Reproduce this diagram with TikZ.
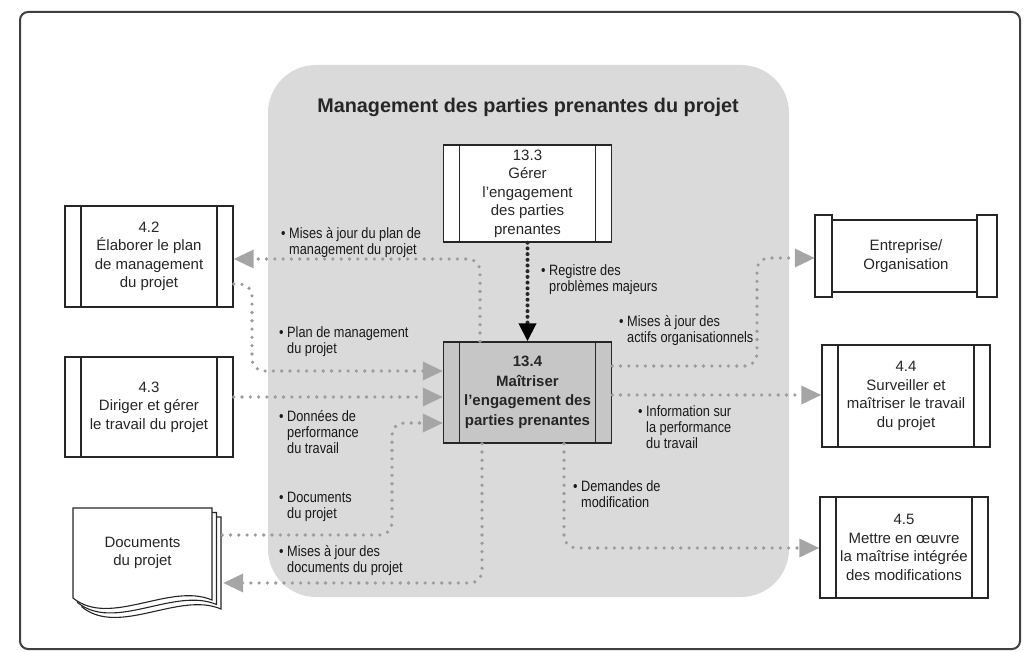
\documentclass[tikz,border=0pt]{standalone}
\usepackage{fontspec}
\setmainfont{Liberation Sans}
\newfontfamily\boxfont{Liberation Sans}
\newfontfamily\notefont{Liberation Sans}[FakeStretch=0.85]
\usepackage{tikz}
\usetikzlibrary{arrows.meta,calc}
\definecolor{zonegray}{RGB}{218,218,218}
\definecolor{keygray}{RGB}{198,198,198}
\definecolor{dotgray}{RGB}{155,155,155}
\definecolor{tipgray}{RGB}{165,165,165}
\definecolor{inkgray}{RGB}{38,38,38}
\newcommand{\ind}{\hphantom{\textbullet\ }}

\tikzset{
  proc/.style={draw=inkgray, line width=1.4pt, fill=white, minimum width=168pt, minimum height=101pt,
    inner sep=0pt, align=center, text=inkgray, font=\boxfont\fontsize{15}{18.5}\selectfont,
    path picture={\draw[inkgray, line width=1.4pt]
      ([xshift=16pt]path picture bounding box.north west) -- ([xshift=16pt]path picture bounding box.south west)
      ([xshift=-16pt]path picture bounding box.north east) -- ([xshift=-16pt]path picture bounding box.south east);}},
  note/.style={anchor=north west, inner sep=0pt, align=left, text=black!90,
    font=\notefont\fontsize{15}{16}\selectfont},
  flow/.style={dotgray, line width=3.6pt, line cap=round, dash pattern=on 0pt off 8.3pt,
    rounded corners=12pt, -{Triangle[length=20pt 0 0,width=18pt 0 0,color=tipgray]}},
  keyflow/.style={inkgray, line width=4pt, line cap=round, dash pattern=on 0pt off 5.7pt,
    -{Triangle[length=18pt 0 0,width=17pt 0 0,color=black]}},
}

\begin{document}
\begin{tikzpicture}[x=1pt,y=1pt,yscale=-1]
\useasboundingbox (0,0) rectangle (1025,652);

% outer frame
\draw [line width=2pt, draw=black!75, rounded corners=8pt] (20,12) rectangle (1020,649);

% grey zone
\fill [zonegray, rounded corners=48pt] (268,65) rectangle (789,597);
\node (title) at (528,107) [font=\boxfont\bfseries\fontsize{19.8}{22}\selectfont, text=inkgray] {Management des parties prenantes du projet};

% processes
\node (b133) at (527.5,193.5) [proc, minimum height=97pt] {13.3\\Gérer\\l’engagement\\des parties\\prenantes};
\node (b134) at (527.5,392.5) [proc, fill=keygray, font=\boxfont\bfseries\fontsize{15}{19.5}\selectfont] {13.4\\Maîtriser\\l’engagement des\\parties prenantes};
\node (b42) at (149,256.5) [proc] {4.2\\Élaborer le plan\\de management\\du projet};
\node (b43) at (149,407) [proc, minimum height=100pt] {4.3\\Diriger et gérer\\le travail du projet};
\node (b44) at (906,396) [proc, minimum height=102pt] {4.4\\Surveiller et\\maîtriser le travail\\du projet};
\node (b45) at (904,547.5) [proc] {4.5\\Mettre en œuvre\\la maîtrise intégrée\\des modifications};

% enterprise (scroll shape)
\draw [inkgray, line width=1.4pt, fill=white] (832,220) rectangle (977,292);
\draw [inkgray, line width=1.4pt, fill=white] (815,215) rectangle (832,297);
\draw [inkgray, line width=1.4pt, fill=white] (977,215) rectangle (997,297);
\node (ent) at (906,256) [minimum width=182pt, minimum height=82pt, inner sep=0pt, align=center, text=inkgray, font=\boxfont\fontsize{15}{18.5}\selectfont] {Entreprise/\\Organisation};

% documents (stacked pages)
\foreach \d in {9,4.5,0}{
  \draw [inkgray, line width=1.1pt, fill=white, shift={(\d,\d)}]
    (73,508) -- (212,508) -- (212,600) .. controls (170,582) and (110,628) .. (73,598) -- cycle;
}
\node (docs) at (142.5,553) [minimum width=139pt, minimum height=90pt, inner sep=0pt, align=center, text=inkgray, font=\boxfont\fontsize{15}{18.5}\selectfont] {Documents\\du projet};

% connectors
\draw [keyflow] (b133.south) -- (b134.north);
\draw [flow] ([xshift=-47.5pt]b134.north) |- (b42.east |- 0,259);
\draw [flow] (b42.east |- 0,284) -| (252,371) -- (b134.west |- 0,371);
\draw [flow] (b43.east |- 0,397) -- (b134.west |- 0,397);
\draw [flow] ([xshift=10pt]docs.east |- 0,535) -| (392,423) -- (b134.west |- 0,423);
\draw [flow] ([xshift=-45.5pt]b134.south) |- ([xshift=11pt]docs.east |- 0,583);
\draw [flow] (b134.east |- 0,366) -| (757,258) -- (ent.west |- 0,258);
\draw [flow] (b134.east |- 0,395) -- (b44.west |- 0,395);
\draw [flow] ([xshift=36.5pt]b134.south) |- (b45.west |- 0,548);

% labels
\node (n1) at (281,227) [note] {\textbullet\ Mises à jour du plan de\\\ind management du projet};
\node (n2) at (541,264) [note] {\textbullet\ Registre des\\\ind problèmes majeurs};
\node (n3) at (279,326) [note] {\textbullet\ Plan de management\\\ind du projet};
\node (n4) at (619,315) [note] {\textbullet\ Mises à jour des\\\ind actifs organisationnels};
\node (n5) at (279,410) [note] {\textbullet\ Données de\\\ind performance\\\ind du travail};
\node (n6) at (638,405) [note] {\textbullet\ Information sur\\\ind la performance\\\ind du travail};
\node (n7) at (279,492) [note] {\textbullet\ Documents\\\ind du projet};
\node (n8) at (573,480) [note] {\textbullet\ Demandes de\\\ind modification};
\node (n9) at (279,545) [note] {\textbullet\ Mises à jour des\\\ind documents du projet};

\end{tikzpicture}
\end{document}
